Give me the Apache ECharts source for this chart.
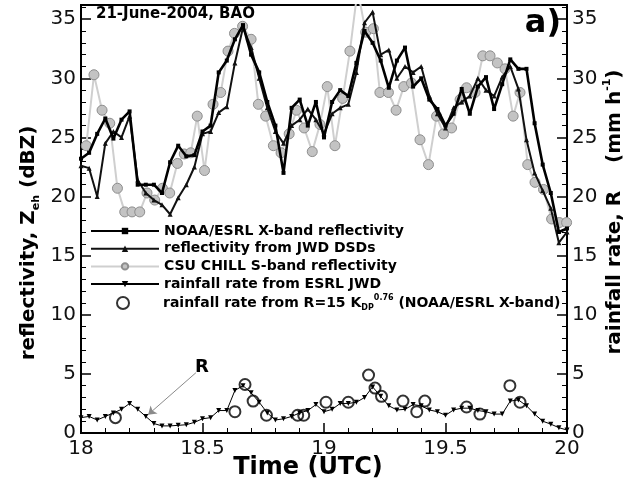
<!DOCTYPE html>
<html>
<head>
<meta charset="utf-8">
<title>21-June-2004, BAO</title>
<script src="https://cdn.jsdelivr.net/npm/echarts@6/dist/echarts.min.js"></script>
<style>
  html, body { margin: 0; padding: 0; background: #ffffff; }
  #chart { width: 627px; height: 489px; }
</style>
</head>
<body>
<div id="chart"></div>
<script>
// Sample times, minutes after 18:00 UTC (2-min records)
const sampleMinutes = [0,2,4,6,8,10,12,14,16,18,20,22,24,26,28,30,32,34,36,38,40,
  42,44,46,48,50,52,54,56,58,60,62,64,66,68,70,72,74,76,78,80,
  82,84,86,88,90,92,94,96,98,100,102,104,106,108,110,112,114,116,118,120];

// NOAA/ESRL X-band reflectivity (dBZ)
const noaaXband = [23.2,23.7,25.3,26.6,24.9,26.5,27.2,21.0,21.0,21.0,20.3,
  22.9,24.3,23.4,23.5,25.5,26.0,30.5,31.5,33.3,34.5,
  32.0,30.5,28.0,26.0,22.0,27.5,28.2,26.0,28.0,25.0,
  28.0,29.0,28.5,31.3,34.0,33.0,31.5,29.2,31.5,32.6,
  29.3,30.0,28.2,27.4,26.0,27.0,29.1,27.0,29.3,30.1,
  27.4,29.5,31.6,30.8,30.8,26.2,22.7,20.3,17.0,17.3];

// Reflectivity computed from the JWD drop size distributions (dBZ)
const jwdReflectivity = [22.6,22.4,20.0,24.5,25.5,25.0,26.8,21.4,20.3,19.7,19.3,
  18.5,19.9,21.0,22.5,25.3,25.5,27.1,27.6,31.3,34.3,
  32.6,30.0,27.5,25.5,24.5,26.0,26.5,27.4,26.5,25.3,
  27.0,27.5,27.8,30.5,34.7,35.6,32.0,32.4,30.0,31.0,
  30.5,31.0,28.5,27.0,25.8,27.5,28.0,28.5,30.0,29.0,
  28.5,30.1,31.0,29.1,24.8,22.0,20.5,19.0,16.1,17.0];

// CSU CHILL S-band scans: times (min after 18 UTC) and reflectivity (dBZ)
const chillMinutes = [1.3,3.2,5.2,7.1,9.0,10.8,12.6,14.5,16.3,18.2,20.1,21.9,23.8,25.5,27.1,
  28.7,30.5,32.6,34.5,36.3,37.9,39.9,42.0,43.8,45.6,47.5,49.4,51.4,53.2,55.1,
  57.1,59.0,60.8,62.7,64.6,66.4,68.3,70.3,72.2,73.8,75.9,77.8,79.7,81.6,83.7,
  85.8,87.8,89.5,91.5,93.6,95.2,97.3,99.2,101.0,102.8,104.7,106.7,108.4,110.3,112.1,
  114.2,116.2,118.1,119.9];
const chillSband = [24.3,30.3,27.3,26.2,20.7,18.7,18.7,18.7,20.3,19.7,20.7,20.3,22.8,23.6,23.7,
  26.8,22.2,27.8,28.8,32.3,33.8,34.4,33.3,27.8,26.8,24.3,23.7,25.3,27.3,25.8,
  23.8,26.1,29.3,24.3,28.3,32.3,37.5,33.9,34.2,28.8,28.8,27.3,29.3,29.6,24.8,
  22.7,26.8,25.3,25.8,28.2,29.2,28.8,31.9,31.9,31.3,30.8,26.8,28.8,22.7,21.2,
  20.6,18.1,17.8,17.8];

// Rainfall rate from the ESRL JWD disdrometer (mm/h)
const rainEsrlJwd = [1.3,1.4,1.1,1.4,1.7,2.0,2.5,2.0,1.4,0.8,0.6,
  0.6,0.65,0.7,0.9,1.2,1.3,1.9,1.9,3.6,4.0,
  3.4,2.6,1.7,1.1,1.2,1.4,1.7,1.9,2.4,1.8,
  2.0,2.5,2.5,2.6,3.0,3.9,3.1,2.3,1.95,2.0,
  2.4,2.3,1.95,1.8,1.5,1.95,2.1,2.1,1.9,1.8,
  1.6,1.6,2.7,2.8,2.3,1.6,1.0,0.75,0.45,0.25];

// Rainfall rate from R = 15 Kdp^0.76 (NOAA/ESRL X-band): times and rates (mm/h)
const kdpMinutes = [8.5,38,40.5,42.5,45.8,53.5,55,60.5,66,71,72.6,74.2,79.5,82.9,84.9,95.2,98.5,105.9,108.4];
const rainKdp = [1.3,1.8,4.1,2.7,1.5,1.5,1.5,2.6,2.6,4.9,3.8,3.1,2.7,1.8,2.7,2.2,1.6,4.0,2.6];

// Annotation arrow for the rain-rate curve, in axis units [hour, value]
const arrowFrom = [18.473, 5.1];
const arrowTo = [18.276, 1.55];

const seriesNames = [
  'NOAA/ESRL X-band reflectivity',
  'reflectivity from JWD DSDs',
  'CSU CHILL S-band reflectivity',
  'rainfall rate from ESRL JWD',
  'rainfall rate from R=15 Kdp'
];

const FONT = "'DejaVu Sans', sans-serif";
const toHour = m => 18 + m / 60;
const pairs = (mins, vals) => mins.map((m, i) => [toHour(m), vals[i]]);

function valueAxis(position) {
  return {
    type: 'value', position: position,
    min: 0, max: 36.2, interval: 5,
    axisLine: { show: true, onZero: false, lineStyle: { color: '#000', width: 2 } },
    axisTick: { show: true, inside: true, length: 10, lineStyle: { color: '#000', width: 1.5 } },
    minorTick: { show: true, splitNumber: 5, length: 5, lineStyle: { color: '#000', width: 1 } },
    splitLine: { show: false },
    minorSplitLine: { show: false },
    axisLabel: { color: '#111', fontFamily: FONT, fontSize: 20, margin: 5, showMaxLabel: false }
  };
}

const chart = echarts.init(document.getElementById('chart'), null, { renderer: 'canvas' });

const option = {
  animation: false,
  backgroundColor: '#ffffff',
  grid: { left: 81, right: 60, top: 5, bottom: 56, show: true, borderColor: '#000', borderWidth: 2, backgroundColor: 'transparent' },
  xAxis: {
    type: 'value', min: 18, max: 20, interval: 0.5,
    axisLine: { show: true, onZero: false, lineStyle: { color: '#000', width: 2 } },
    axisTick: { show: true, inside: true, length: 10, lineStyle: { color: '#000', width: 1.5 } },
    minorTick: { show: true, splitNumber: 5, length: 5, lineStyle: { color: '#000', width: 1 } },
    splitLine: { show: false },
    axisLabel: { color: '#111', fontFamily: FONT, fontSize: 20, margin: 6 }
  },
  yAxis: [valueAxis('left'), valueAxis('right')],
  legend: [
    {
      data: seriesNames.slice(0, 4),
      orient: 'vertical', left: 90, top: 224, padding: 0,
      itemWidth: 68, itemHeight: 8, itemGap: 3.7,
      selectedMode: false,
      textStyle: { fontFamily: FONT, fontWeight: 'bold', fontSize: 14, color: '#000' }
    },
    {
      data: [seriesNames[4]],
      orient: 'vertical', left: 116, top: 294, padding: 0,
      itemWidth: 70, itemHeight: 12,
      selectedMode: false,
      formatter: () => 'rainfall rate from R=15 K{sub|DP}{sup|0.76} (NOAA/ESRL X-band)',
      textStyle: {
        fontFamily: FONT, fontWeight: 'bold', fontSize: 14, color: '#000', lineHeight: 18,
        rich: {
          sub: { fontFamily: FONT, fontWeight: 'bold', fontSize: 8, color: '#000', verticalAlign: 'bottom', lineHeight: 8 },
          sup: { fontFamily: FONT, fontWeight: 'bold', fontSize: 8, color: '#000', verticalAlign: 'top', lineHeight: 8 }
        }
      }
    }
  ],
  series: [
    {
      name: seriesNames[2], type: 'line', yAxisIndex: 0, z: 2,
      data: pairs(chillMinutes, chillSband),
      symbol: 'circle', symbolSize: 10, showAllSymbol: true,
      lineStyle: { color: '#cfcfcf', width: 2 },
      itemStyle: { color: '#c3c3c3', borderColor: '#8e8e8e', borderWidth: 1 },
      emphasis: { disabled: true }
    },
    {
      name: seriesNames[1], type: 'line', yAxisIndex: 0, z: 3,
      data: pairs(sampleMinutes, jwdReflectivity),
      symbol: 'triangle', symbolSize: 5, showAllSymbol: true,
      lineStyle: { color: '#111', width: 2 },
      itemStyle: { color: '#111' },
      emphasis: { disabled: true }
    },
    {
      name: seriesNames[0], type: 'line', yAxisIndex: 0, z: 4,
      data: pairs(sampleMinutes, noaaXband),
      symbol: 'rect', symbolSize: 4, showAllSymbol: true,
      lineStyle: { color: '#000', width: 2.6 },
      itemStyle: { color: '#000' },
      emphasis: { disabled: true }
    },
    {
      name: seriesNames[3], type: 'line', yAxisIndex: 1, z: 4,
      data: pairs(sampleMinutes, rainEsrlJwd),
      symbol: 'triangle', symbolRotate: 180, symbolSize: 5, showAllSymbol: true,
      lineStyle: { color: '#000', width: 1 },
      itemStyle: { color: '#000' },
      emphasis: { disabled: true },
      markLine: {
        silent: true, animation: false,
        symbol: ['none', 'arrow'], symbolSize: 8,
        lineStyle: { color: '#8a8a8a', width: 1, type: 'solid' },
        label: {
          show: true, position: 'start', formatter: 'R', distance: 8,
          fontFamily: FONT, fontWeight: 'bold', fontSize: 18, color: '#000'
        },
        emphasis: { disabled: true },
        data: [[{ coord: arrowFrom }, { coord: arrowTo }]]
      }
    },
    {
      name: seriesNames[4], type: 'scatter', yAxisIndex: 1, z: 5,
      data: pairs(kdpMinutes, rainKdp),
      symbol: 'circle', symbolSize: 11,
      itemStyle: { color: 'rgba(255,255,255,0)', borderColor: '#000', borderWidth: 2 },
      emphasis: { disabled: true }
    }
  ],
  graphic: [
    {
      type: 'text', x: 96, y: 14, silent: true,
      style: { text: '21-June-2004, BAO', font: 'bold 15px ' + FONT, fill: '#000', align: 'left', verticalAlign: 'middle' }
    },
    {
      type: 'text', x: 561, y: 24, silent: true,
      style: { text: 'a)', font: 'bold 32px ' + FONT, fill: '#000', align: 'right', verticalAlign: 'middle' }
    },
    {
      type: 'text', x: 308, y: 468, silent: true,
      style: { text: 'Time (UTC)', font: 'bold 24px ' + FONT, fill: '#000', align: 'center', verticalAlign: 'middle' }
    },
    {
      type: 'text', x: 29, y: 243, rotation: Math.PI / 2, silent: true,
      style: {
        text: 'reflectivity, Z{sub|eh} (dBZ)', font: 'bold 20px ' + FONT, fill: '#000',
        align: 'center', verticalAlign: 'middle', lineHeight: 26,
        rich: { sub: { font: 'bold 11px ' + FONT, fill: '#000', verticalAlign: 'bottom', lineHeight: 11 } }
      }
    },
    {
      type: 'text', x: 615, y: 212, rotation: Math.PI / 2, silent: true,
      style: {
        text: 'rainfall rate, R    (mm h{sup|-1})', font: 'bold 20px ' + FONT, fill: '#000',
        align: 'center', verticalAlign: 'middle', lineHeight: 26,
        rich: { sup: { font: 'bold 11px ' + FONT, fill: '#000', verticalAlign: 'top', lineHeight: 11 } }
      }
    }
  ]
};

chart.setOption(option);
</script>
</body>
</html>
